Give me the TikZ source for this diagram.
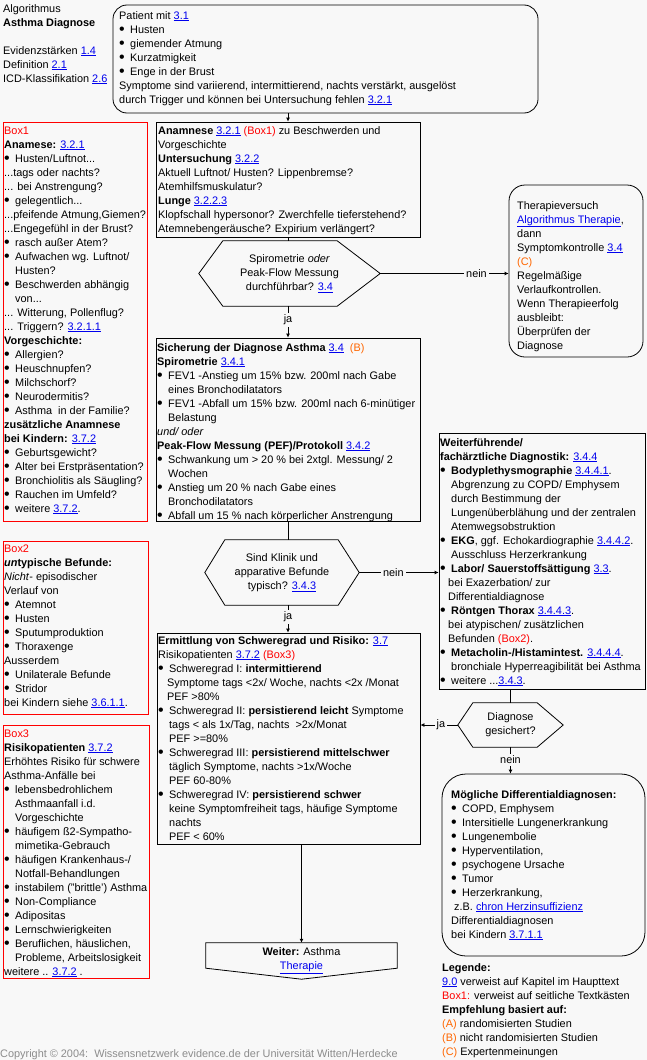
\documentclass[tikz,border=0pt]{standalone}
\usepackage{fontspec}
\setmainfont{Liberation Sans}
\usetikzlibrary{arrows.meta,fit}
\definecolor{lnkc}{RGB}{0,0,238}
\definecolor{redc}{RGB}{255,0,0}
\definecolor{orc}{RGB}{255,102,0}
\definecolor{bgc}{RGB}{248,248,248}
\definecolor{grc}{RGB}{140,140,140}
\newcommand\lnk[1]{\textcolor{lnkc}{\underline{#1}}}
\newcommand\rd[1]{\textcolor{redc}{#1}}
\newcommand\orn[1]{\textcolor{orc}{#1}}
\newcommand\bul{\makebox[11pt][l]{\raisebox{-1.3pt}{\fontsize{16}{14}\selectfont\textbullet}}}
\newcommand\ind{\hspace*{11pt}}
\newcommand\fs{\fontsize{10.9}{14}\selectfont}
\begin{document}
\begin{tikzpicture}[x=1pt,y=-1pt,
  txt/.style={anchor=north west,inner sep=0pt,align=left,font=\fs},
  ctxt/.style={inner sep=0pt,align=center,font=\fs},
  box/.style={draw=black,line width=0.8pt,fill=bgc,inner sep=0pt},
  rbox/.style={box,rounded corners=14pt},
  redbox/.style={draw=redc,line width=1pt,inner sep=0pt},
  shp/.style={inner sep=0pt},
  lbl/.style={fill=bgc,inner sep=2pt,font=\fs},
  arr/.style={-{Latex[length=4pt,width=4pt]}},
  conn/.style={line width=0.8pt}]
\fill[bgc] (0,0) rectangle (647,1060);
\useasboundingbox (0,0) rectangle (647,1060);

% ---------- shapes ----------
\node[rbox,fit={(113,5) (538,113)}] (top) {};
\node[box,fit={(156,122) (420,237)}] (anam) {};
\node[shp,fit={(199,241) (380,306)}] (h1) {};
\draw[box] (h1.west) -- ([xshift=24pt]h1.north west) -- ([xshift=-43pt]h1.north east) -- (h1.east) -- ([xshift=-43pt]h1.south east) -- ([xshift=24pt]h1.south west) -- cycle;
\node[rbox,rounded corners=16pt,fit={(509,185) (643,357)}] (thera) {};
\node[box,fit={(156,338) (420,521)}] (sich) {};
\node[shp,fit={(205,540) (359,605)}] (h2) {};
\draw[box] (h2.west) -- ([xshift=20pt]h2.north west) -- ([xshift=-21pt]h2.north east) -- (h2.east) -- ([xshift=-21pt]h2.south east) -- ([xshift=20pt]h2.south west) -- cycle;
\node[box,fit={(439,433) (645,689)}] (weit) {};
\node[box,fit={(157,633) (420,844)}] (ermi) {};
\node[shp,fit={(458,703) (563,747)}] (h3) {};
\draw[box] (h3.west) -- ([xshift=15pt]h3.north west) -- ([xshift=-26pt]h3.north east) -- (h3.east) -- ([xshift=-26pt]h3.south east) -- ([xshift=15pt]h3.south west) -- cycle;
\node[rbox,rounded corners=24pt,fit={(442,774) (645,956)}] (diff) {};
\node[shp,fit={(206,943) (397,979)}] (weiter) {};
\draw[box] (weiter.north west) -- (weiter.north east) -- ([yshift=11pt]weiter.south east) -- (weiter.south) -- ([yshift=11pt]weiter.south west) -- cycle;
\node[redbox,fit={(3,122) (147,521)}] (rb1) {};
\node[redbox,fit={(3,541) (148,714)}] (rb2) {};
\node[redbox,fit={(3,725) (149,978)}] (rb3) {};

% ---------- texts ----------
\node[txt] (title) at (3,3) {\strut Algorithmus\\ \textbf{Asthma Diagnose}};
\node[txt] (refs) at (3,44) {\strut Evidenzstärken \lnk{1.4}\\ Definition \lnk{2.1}\\ ICD-Klassifikation \lnk{2.6}};

\node[txt] (toptxt) at (119,9) {\strut Patient mit \lnk{3.1}\\
\bul Husten\\
\bul giemender Atmung\\
\bul Kurzatmigkeit\\
\bul Enge in der Brust\\
Symptome sind variierend, intermittierend, nachts verstärkt, ausgelöst\\
durch Trigger und können bei Untersuchung fehlen \lnk{3.2.1}};

\node[txt] (anamtxt) at (158,124) {\strut\textbf{Anamnese} \lnk{3.2.1} \rd{(Box1)} zu Beschwerden und\\
Vorgeschichte\\
\textbf{Untersuchung} \lnk{3.2.2}\\
Aktuell Luftnot/ Husten? Lippenbremse?\\
Atemhilfsmuskulatur?\\
\textbf{Lunge} \lnk{3.2.2.3}\\
Klopfschall hypersonor? Zwerchfelle tieferstehend?\\
Atemnebengeräusche? Expirium verlängert?};

\node[ctxt] (h1txt) at (h1.center) {\strut Spirometrie \textit{oder}\\ \strut Peak-Flow Messung\\ \strut durchführbar? \lnk{3.4}};

\node[txt] (theratxt) at (517,199) {\strut Therapieversuch\\
\lnk{Algorithmus Therapie},\\
dann\\
Symptomkontrolle \lnk{3.4}\\
\orn{(C)}\\
Regelmäßige\\
Verlaufkontrollen.\\
Wenn Therapieerfolg\\
ausbleibt:\\
Überprüfen der\\
Diagnose};

\node[txt] (sichtxt) at (157,341) {\strut\textbf{Sicherung der Diagnose Asthma} \lnk{3.4}\ \ \orn{(B)}\\
\textbf{Spirometrie} \lnk{3.4.1}\\
\bul FEV1 -Anstieg um 15\% bzw. 200ml nach Gabe\\
\ind eines Bronchodilatators\\
\bul FEV1 -Abfall um 15\% bzw. 200ml nach 6-minütiger\\
\ind Belastung\\
\textit{und/ oder}\\
\textbf{Peak-Flow Messung (PEF)/Protokoll} \lnk{3.4.2}\\
\bul Schwankung um > 20 \% bei 2xtgl. Messung/ 2\\
\ind Wochen\\
\bul Anstieg um 20 \% nach Gabe eines\\
\ind Bronchodilatators\\
\bul Abfall um 15 \% nach körperlicher Anstrengung};

\node[ctxt] (h2txt) at (h2.center) {\strut Sind Klinik und\\ \strut apparative Befunde\\ \strut typisch? \lnk{3.4.3}};

\node[txt] (weittxt) at (440,436) {\strut\textbf{Weiterführende/}\\
\textbf{fachärztliche Diagnostik:} \lnk{3.4.4}\\
\bul \textbf{Bodyplethysmographie} \lnk{3.4.4.1}.\\
\ind Abgrenzung zu COPD/ Emphysem\\
\ind durch Bestimmung der\\
\ind Lungenüberblähung und der zentralen\\
\ind Atemwegsobstruktion\\
\bul \textbf{EKG}, ggf. Echokardiographie \lnk{3.4.4.2}.\\
\ind Ausschluss Herzerkrankung\\
\bul \textbf{Labor/ Sauerstoffsättigung} \lnk{3.3}.\\
\hspace*{8pt}bei Exazerbation/ zur\\
\hspace*{8pt}Differentialdiagnose\\
\bul \textbf{Röntgen Thorax} \lnk{3.4.4.3}.\\
\hspace*{8pt}bei atypischen/ zusätzlichen\\
\hspace*{8pt}Befunden \rd{(Box2)}.\\
\bul \textbf{Metacholin-/Histamintest.} \lnk{3.4.4.4}.\\
\ind bronchiale Hyperreagibilität bei Asthma\\
\bul weitere ...\lnk{3.4.3}.};

\node[txt] (ermitxt) at (158,634) {\strut\textbf{Ermittlung von Schweregrad und Risiko:} \lnk{3.7}\\
Risikopatienten \lnk{3.7.2} \rd{(Box3)}\\
\bul Schweregrad I: \textbf{intermittierend}\\
\hspace*{9pt}Symptome tags <2x/ Woche, nachts <2x /Monat\\
\hspace*{9pt}PEF >80\%\\
\bul Schweregrad II: \textbf{persistierend leicht} Symptome\\
\ind tags < als 1x/Tag, nachts\ \ >2x/Monat\\
\ind PEF >=80\%\\
\bul Schweregrad III: \textbf{persistierend mittelschwer}\\
\ind täglich Symptome, nachts >1x/Woche\\
\ind PEF 60-80\%\\
\bul Schweregrad IV: \textbf{persistierend schwer}\\
\ind keine Symptomfreiheit tags, häufige Symptome\\
\ind nachts\\
\ind PEF < 60\%};

\node[ctxt] (h3txt) at (h3.center) {\strut Diagnose\\ \strut gesichert?};

\node[txt] (difftxt) at (451,788) {\strut\textbf{Mögliche Differentialdiagnosen:}\\
\bul COPD, Emphysem\\
\bul Intersitielle Lungenerkrankung\\
\bul Lungenembolie\\
\bul Hyperventilation,\\
\bul psychogene Ursache\\
\bul Tumor\\
\bul Herzerkrankung,\\
\hspace*{3pt}z.B. \lnk{chron Herzinsuffizienz}\\
Differentialdiagnosen\\
bei Kindern \lnk{3.7.1.1}};

\node[ctxt,anchor=north] (weitertxt) at ([yshift=-3pt]weiter.north) {\strut\textbf{Weiter:} Asthma\\ \lnk{Therapie}};

\node[txt] (rb1txt) at (4,124) {\strut\rd{Box1}\\
\textbf{Anamese:} \lnk{3.2.1}\\
\bul Husten/Luftnot...\\
...tags oder nachts?\\
... bei Anstrengung?\\
\bul gelegentlich...\\
...pfeifende Atmung,Giemen?\\
...Engegefühl in der Brust?\\
\bul rasch außer Atem?\\
\bul Aufwachen wg. Luftnot/\\
\ind Husten?\\
\bul Beschwerden abhängig\\
\ind von...\\
... Witterung, Pollenflug?\\
... Triggern? \lnk{3.2.1.1}\\
\textbf{Vorgeschichte:}\\
\bul Allergien?\\
\bul Heuschnupfen?\\
\bul Milchschorf?\\
\bul Neurodermitis?\\
\bul Asthma\ \ in der Familie?\\
\textbf{zusätzliche Anamnese}\\
\textbf{bei Kindern:} \lnk{3.7.2}\\
\bul Geburtsgewicht?\\
\bul Alter bei Erstpräsentation?\\
\bul Bronchiolitis als Säugling?\\
\bul Rauchen im Umfeld?\\
\bul weitere \lnk{3.7.2}.};

\node[txt] (rb2txt) at (4,542) {\strut\rd{Box2}\\
\textbf{\textit{un}typische Befunde:}\\
\textit{Nicht}- episodischer\\
Verlauf von\\
\bul Atemnot\\
\bul Husten\\
\bul Sputumproduktion\\
\bul Thoraxenge\\
Ausserdem\\
\bul Unilaterale Befunde\\
\bul Stridor\\
bei Kindern siehe \lnk{3.6.1.1}.};

\node[txt] (rb3txt) at (4,727) {\strut\rd{Box3}\\
\textbf{Risikopatienten} \lnk{3.7.2}\\
Erhöhtes Risiko für schwere\\
Asthma-Anfälle bei\\
\bul lebensbedrohlichem\\
\ind Asthmaanfall i.d.\\
\ind Vorgeschichte\\
\bul häufigem ß2-Sympatho-\\
\ind mimetika-Gebrauch\\
\bul häufigen Krankenhaus-/\\
\ind Notfall-Behandlungen\\
\bul instabilem ("brittle') Asthma\\
\bul Non-Compliance\\
\bul Adipositas\\
\bul Lernschwierigkeiten\\
\bul Beruflichen, häuslichen,\\
\ind Probleme, Arbeitslosigkeit\\
weitere .. \lnk{3.7.2} .};

\node[txt] (legend) at (442,961) {\strut\textbf{Legende:}\\
\lnk{9.0} verweist auf Kapitel im Haupttext\\
\rd{Box1:} verweist auf seitliche Textkästen\\
\textbf{Empfehlung basiert auf:}\\
\orn{(A)} randomisierten Studien\\
\orn{(B)} nicht randomisierten Studien\\
\orn{(C)} Expertenmeinungen};

\node[txt,text=grc] (copy) at (0,1047) {\strut Copyright © 2004:\ \ Wissensnetzwerk evidence.de der Universität Witten/Herdecke};

% ---------- connectors ----------
\draw[conn,arr] (anam.north |- top.south) -- (anam.north);
\draw[conn] (anam.south) -- (anam.south |- h1.north);
\draw[conn,arr] (h1.south -| sich.north) -- node[lbl,pos=0.44]{ja} (sich.north);
\draw[conn,arr] (h1.east) -- node[lbl,pos=0.75]{nein} (h1.east -| thera.west);
\draw[conn] (sich.south) -- (sich.south |- h2.north);
\draw[conn,arr] (h2.east) -- node[lbl,pos=0.43]{nein} (h2.east -| weit.west);
\draw[conn,arr] (sich.south |- h2.south) -- node[lbl,pos=0.43]{ja} (sich.south |- ermi.north);
\draw[conn,arr] (weiter.north |- ermi.south) -- (weiter.north);
\draw[conn] (h3.north |- weit.south) -- (h3.north);
\draw[conn,arr] (h3.west) -- node[lbl,pos=0.45]{ja} (h3.west -| ermi.east);
\draw[conn,arr] (h3.south) -- node[lbl,pos=0.48]{nein} (h3.south |- diff.north);
\end{tikzpicture}
\end{document}
